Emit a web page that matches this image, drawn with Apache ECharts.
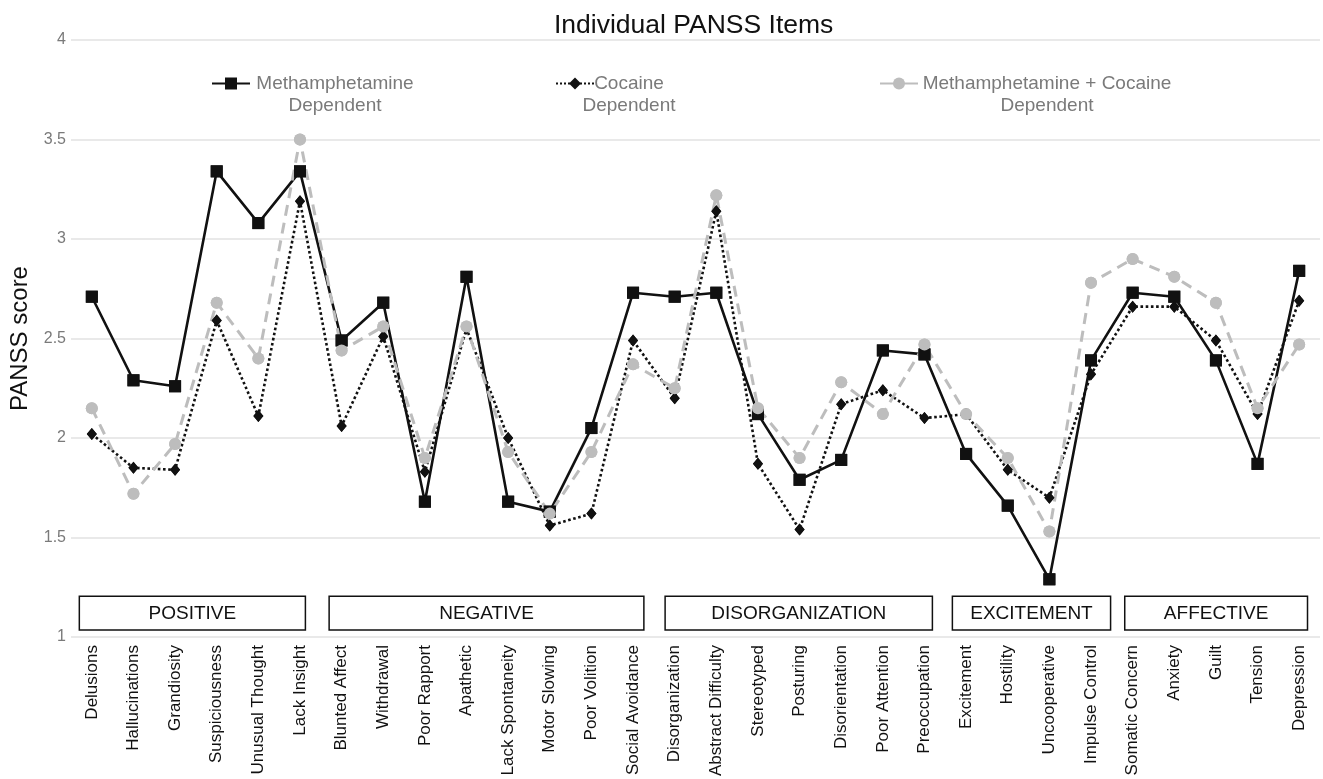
<!DOCTYPE html>
<html>
<head>
<meta charset="utf-8">
<script src="https://cdn.jsdelivr.net/npm/echarts@6/dist/echarts.min.js"></script>
<style>
  html, body { margin: 0; padding: 0; background: #fff; }
  #chart { width: 1323px; height: 779px; }
</style>
</head>
<body>
<div id="chart"></div>
<script>
const categories = ['Delusions','Hallucinations','Grandiosity','Suspiciousness','Unusual Thought','Lack Insight','Blunted Affect','Withdrawal','Poor Rapport','Apathetic','Lack Spontaneity','Motor Slowing','Poor Volition','Social Avoidance','Disorganization','Abstract Difficulty','Stereotyped','Posturing','Disorientation','Poor Attention','Preoccupation','Excitement','Hostility','Uncooperative','Impulse Control','Somatic Concern','Anxiety','Guilt','Tension','Depression'];

const methValues = [2.71,2.29,2.26,3.34,3.08,3.34,2.49,2.68,1.68,2.81,1.68,1.63,2.05,2.73,2.71,2.73,2.12,1.79,1.89,2.44,2.42,1.92,1.66,1.29,2.39,2.73,2.71,2.39,1.87,2.84];
const cocaineValues = [2.02,1.85,1.84,2.59,2.11,3.19,2.06,2.51,1.83,2.55,2.00,1.56,1.62,2.49,2.20,3.14,1.87,1.54,2.17,2.24,2.10,2.12,1.84,1.70,2.32,2.66,2.66,2.49,2.12,2.69];
const bothValues = [2.15,1.72,1.97,2.68,2.40,3.50,2.44,2.56,1.90,2.56,1.93,1.62,1.93,2.37,2.25,3.22,2.15,1.90,2.28,2.12,2.47,2.12,1.90,1.53,2.78,2.90,2.81,2.68,2.15,2.47];

const seriesNames = ['Methamphetamine Dependent', 'Cocaine Dependent', 'Methamphetamine + Cocaine Dependent'];
const legendLines = [['Methamphetamine', 'Dependent'], ['Cocaine', 'Dependent'], ['Methamphetamine + Cocaine', 'Dependent']];

// item groups: span in category-index units (box edges)
const groupNames = ['POSITIVE','NEGATIVE','DISORGANIZATION','EXCITEMENT','AFFECTIVE'];
const groupFrom = [-0.3, 5.7, 13.77, 20.67, 24.81];
const groupTo = [5.13, 13.26, 20.19, 24.47, 29.2];

const yTicks = [1, 1.5, 2, 2.5, 3, 3.5, 4];

const FONT = 'Liberation Sans, Arial, Helvetica, sans-serif';
const chart = echarts.init(document.getElementById('chart'), null, { renderer: 'canvas' });

const styles = [
  { color: '#111111', line: { color: '#111111', width: 2.6, type: 'solid' }, symbol: 'rect', size: 12 },
  { color: '#111111', line: { color: '#111111', width: 2.6, type: 'dotted' }, symbol: 'diamond', size: [10, 12] },
  { color: '#bdbdbd', line: { color: '#bdbdbd', width: 3, type: [11, 7] }, symbol: 'circle', size: 12 }
];
const dataSets = [methValues, cocaineValues, bothValues];

const lineSeries = dataSets.map((d, i) => ({
  name: seriesNames[i],
  type: 'line',
  data: d,
  z: 2,
  symbol: styles[i].symbol,
  symbolSize: styles[i].size,
  showAllSymbol: true,
  itemStyle: { color: styles[i].color },
  lineStyle: styles[i].line,
  emphasis: { disabled: true },
  animation: false
}));
const pointSeries = dataSets.map((d, i) => ({
  name: 'pts' + i,
  type: 'line',
  data: d,
  z: 3,
  symbol: styles[i].symbol,
  symbolSize: styles[i].size,
  showAllSymbol: true,
  itemStyle: { color: styles[i].color },
  lineStyle: { width: 0, opacity: 0 },
  emphasis: { disabled: true },
  animation: false
}));

const legendCfg = [
  { left: 211, width: 160, lineType: 'solid' },
  { left: 555, width: 60, lineType: 'dotted' },
  { left: 879, width: 248, lineType: 'solid' }
];

const legends = legendCfg.map((c, i) => ({
  data: [seriesNames[i]],
  left: c.left,
  top: 52,
  padding: 0,
  itemWidth: 38,
  itemHeight: 15,
  selectedMode: false,
  lineStyle: { type: c.lineType },
  formatter: () => '{a| }\n{a|' + legendLines[i][0] + '}\n{a|' + legendLines[i][1] + '}',
  textStyle: {
    rich: {
      a: { width: c.width, align: 'center', fontSize: 19, lineHeight: 22, color: '#7a7a7a', fontFamily: FONT }
    }
  }
}));

const groupSeries = {
  type: 'custom',
  name: 'groups',
  z: 5,
  clip: false,
  silent: true,
  data: groupFrom.map((s, i) => [0, i]),
  renderItem: function (params, api) {
    const i = params.dataIndex;
    const band = api.size([1, 0])[0];
    const base = api.coord([0, 1.205]);
    const low = api.coord([0, 1.035]);
    const x0 = base[0] + groupFrom[i] * band;
    const x1 = base[0] + groupTo[i] * band;
    const y0 = base[1], y1 = low[1];
    return {
      type: 'group',
      children: [
        { type: 'rect', shape: { x: x0, y: y0, width: x1 - x0, height: y1 - y0 },
          style: { fill: '#ffffff', stroke: '#111111', lineWidth: 1.5 } },
        { type: 'text', style: { text: groupNames[i], x: (x0 + x1) / 2, y: (y0 + y1) / 2 + 1,
          align: 'center', verticalAlign: 'middle', fontSize: 19, fontFamily: FONT, fill: '#111111' } }
      ]
    };
  },
  animation: false
};

const option = {
  backgroundColor: '#ffffff',
  animation: false,
  title: {
    text: 'Individual PANSS Items',
    left: 549,
    top: 7,
    textStyle: { fontSize: 26.5, fontWeight: 'normal', color: '#111111', fontFamily: FONT }
  },
  legend: legends,
  grid: { left: 68, right: 3, top: 40, bottom: 142, containLabel: false },
  xAxis: {
    type: 'category',
    data: categories,
    boundaryGap: true,
    axisLine: { show: false },
    axisTick: { show: false },
    axisLabel: { rotate: 90, margin: 8, fontSize: 17, color: '#111111', fontFamily: FONT, interval: 0 },
    splitLine: { show: false }
  },
  yAxis: {
    type: 'value',
    min: yTicks[0],
    max: yTicks[yTicks.length - 1],
    interval: 0.5,
    name: 'PANSS score',
    nameLocation: 'middle',
    nameRotate: 90,
    nameGap: 39,
    nameTextStyle: { fontSize: 24, color: '#111111', fontFamily: FONT },
    axisLine: { show: false },
    axisTick: { show: false },
    axisLabel: { fontSize: 16, color: '#7a7a7a', margin: 5, fontFamily: FONT,
      formatter: v => { const t = yTicks.find(k => Math.abs(k - v) < 1e-9); return t === undefined ? '' : String(t); } },
    splitLine: { show: true, lineStyle: { color: '#e2e2e2', width: 1.5 } }
  },
  series: [...lineSeries, ...pointSeries, groupSeries]
};

chart.setOption(option);
</script>
</body>
</html>
